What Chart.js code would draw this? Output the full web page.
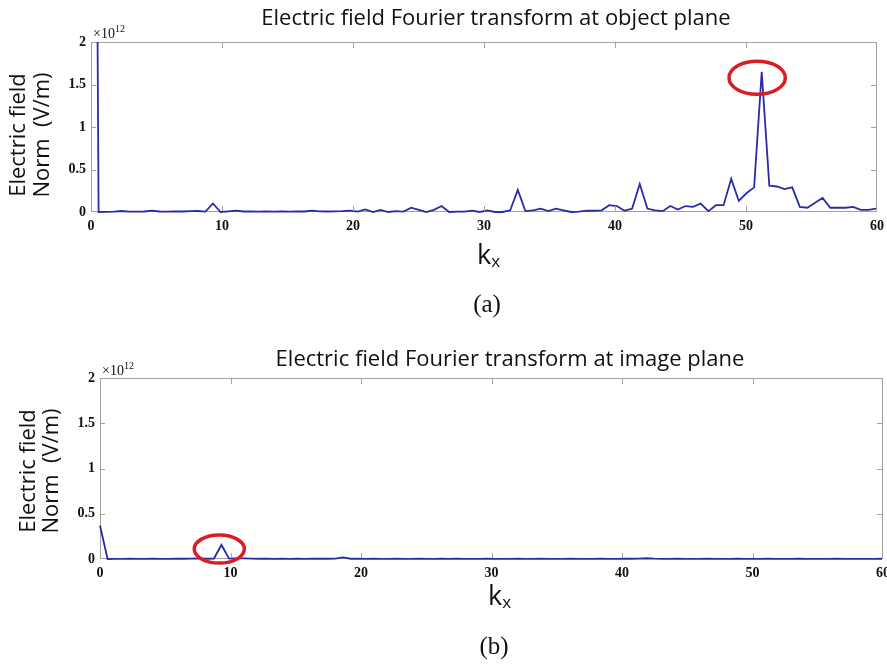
<!DOCTYPE html>
<html>
<head>
<meta charset="utf-8">
<title>Electric field Fourier transform</title>
<script src="https://cdn.jsdelivr.net/npm/chart.js@4.4.1/dist/chart.umd.min.js"></script>
<style>
  html, body { margin: 0; padding: 0; background: #fff; }
  #wrap { position: relative; width: 887px; height: 665px; overflow: hidden; }
  canvas { position: absolute; left: 0; }
  #objectChart { top: 0; }
  #imageChart { top: 330px; }
</style>
</head>
<body>
<div id="wrap">
  <canvas id="objectChart" width="887" height="330"></canvas>
  <canvas id="imageChart" width="887" height="335"></canvas>
</div>
<script>
// kx samples (spatial frequency)
const kx = [
  0.00, 0.58, 1.16, 1.75, 2.33, 2.91, 3.49, 4.07, 4.65, 5.24,
  5.82, 6.40, 6.98, 7.56, 8.15, 8.73, 9.31, 9.89, 10.47, 11.05,
  11.64, 12.22, 12.80, 13.38, 13.96, 14.55, 15.13, 15.71, 16.29, 16.87,
  17.45, 18.04, 18.62, 19.20, 19.78, 20.36, 20.94, 21.53, 22.11, 22.69,
  23.27, 23.85, 24.44, 25.02, 25.60, 26.18, 26.76, 27.34, 27.93, 28.51,
  29.09, 29.67, 30.25, 30.84, 31.42, 32.00, 32.58, 33.16, 33.74, 34.33,
  34.91, 35.49, 36.07, 36.65, 37.24, 37.82, 38.40, 38.98, 39.56, 40.14,
  40.73, 41.31, 41.89, 42.47, 43.05, 43.64, 44.22, 44.80, 45.38, 45.96,
  46.54, 47.13, 47.71, 48.29, 48.87, 49.45, 50.03, 50.62, 51.20, 51.78,
  52.36, 52.94, 53.53, 54.11, 54.69, 55.27, 55.85, 56.43, 57.02, 57.60,
  58.18, 58.76, 59.34, 59.93
];

// |E| at object plane, x10^12 V/m (first value is off the scale)
const objectNorm = [
  15, 0.0, 0.002, 0.005, 0.012, 0.005, 0.004, 0.006, 0.015, 0.006,
  0.005, 0.008, 0.006, 0.01, 0.012, 0.005, 0.1, 0.0, 0.008, 0.015,
  0.006, 0.008, 0.005, 0.007, 0.005, 0.006, 0.004, 0.008, 0.006, 0.015,
  0.008, 0.006, 0.007, 0.01, 0.015, 0.005, 0.03, 0.0, 0.025, 0.0,
  0.01, 0.005, 0.05, 0.025, 0.0, 0.025, 0.07, 0.0, 0.005, 0.005,
  0.015, 0.0, 0.02, 0.0, 0.0, 0.02, 0.26, 0.01, 0.02, 0.04,
  0.01, 0.04, 0.02, 0.0, 0.005, 0.015, 0.015, 0.02, 0.08, 0.07,
  0.015, 0.04, 0.33, 0.04, 0.02, 0.01, 0.07, 0.03, 0.07, 0.06,
  0.1, 0.01, 0.08, 0.08, 0.39, 0.13, 0.22, 0.29, 1.65, 0.31,
  0.30, 0.27, 0.29, 0.06, 0.05, 0.11, 0.165, 0.05, 0.05, 0.05,
  0.06, 0.025, 0.025, 0.04
];

// |E| at image plane, x10^12 V/m
const imageNorm = [
  0.37, 0.0, 0.002, 0.002, 0.003, 0.002, 0.002, 0.003, 0.002, 0.002,
  0.003, 0.003, 0.004, 0.006, 0.003, 0.005, 0.155, 0.004, 0.006, 0.008,
  0.004, 0.003, 0.003, 0.002, 0.003, 0.002, 0.003, 0.002, 0.003, 0.004,
  0.003, 0.005, 0.018, 0.003, 0.003, 0.002, 0.003, 0.002, 0.002, 0.003,
  0.002, 0.002, 0.003, 0.002, 0.002, 0.003, 0.002, 0.003, 0.002, 0.002,
  0.002, 0.003, 0.002, 0.002, 0.002, 0.003, 0.002, 0.002, 0.003, 0.002,
  0.002, 0.002, 0.003, 0.002, 0.002, 0.002, 0.003, 0.002, 0.002, 0.003,
  0.003, 0.004, 0.008, 0.004, 0.002, 0.002, 0.003, 0.002, 0.002, 0.002,
  0.003, 0.002, 0.002, 0.002, 0.003, 0.002, 0.002, 0.002, 0.003, 0.002,
  0.002, 0.002, 0.003, 0.002, 0.002, 0.002, 0.002, 0.003, 0.002, 0.002,
  0.002, 0.002, 0.002, 0.003
];

const xTicks = [0, 10, 20, 30, 40, 50, 60];
const yTicks = [0, 0.5, 1, 1.5, 2];
const yTitle = ['Electric field', 'Norm  (V/m)'];

const tickFont = { family: '"Liberation Serif", "Times New Roman", serif', size: 14, weight: 'bold' };
const sansFamily = '"Open Sans", "Liberation Sans", sans-serif';

// frame, inward ticks, red marker, titles and labels
const panelDecor = {
  id: 'panelDecor',
  beforeDatasetsDraw(chart) {
    const { ctx, chartArea: a } = chart;
    ctx.save();
    ctx.strokeStyle = '#a2a2a2';
    ctx.lineWidth = 1;
    ctx.strokeRect(a.left + 0.5, a.top + 0.5, a.right - a.left - 1, a.bottom - a.top - 1);
    ctx.restore();
  },
  afterDraw(chart, args, opts) {
    const { ctx, chartArea: a, scales: { x, y } } = chart;
    ctx.save();

    // inward ticks on all four sides
    ctx.strokeStyle = '#a2a2a2';
    ctx.lineWidth = 1;
    ctx.beginPath();
    xTicks.slice(1, -1).forEach(v => {
      const px = Math.round(x.getPixelForValue(v)) + 0.5;
      ctx.moveTo(px, a.bottom - 1); ctx.lineTo(px, a.bottom - 6);
      ctx.moveTo(px, a.top); ctx.lineTo(px, a.top + 6);
    });
    yTicks.slice(1, -1).forEach(v => {
      const py = Math.round(y.getPixelForValue(v)) + 0.5;
      ctx.moveTo(a.left, py); ctx.lineTo(a.left + 5, py);
      ctx.moveTo(a.right, py); ctx.lineTo(a.right - 6, py);
    });
    ctx.stroke();

    const m = opts.mark;
    const cx = x.getPixelForValue(m.kx);
    const cy = y.getPixelForValue(m.norm);
    ctx.beginPath();
    ctx.ellipse(cx, cy, x.getPixelForValue(m.kx + m.rx) - cx, cy - y.getPixelForValue(m.norm + m.ry), 0, 0, Math.PI * 2);
    ctx.strokeStyle = '#d81e25';
    ctx.lineWidth = 3.5;
    ctx.stroke();

    ctx.fillStyle = '#111';

    // exponent
    ctx.textAlign = 'left';
    ctx.textBaseline = 'alphabetic';
    ctx.font = '14px "Liberation Serif", serif';
    ctx.fillText('×10', a.left + 2, a.top - opts.expDrop);
    const w = ctx.measureText('×10').width;
    ctx.font = '10px "Liberation Serif", serif';
    ctx.fillText('12', a.left + 2 + w, a.top - opts.expDrop - 6);

    // y axis title, two rotated lines
    ctx.font = '22px ' + sansFamily;
    ctx.textAlign = 'center';
    ctx.textBaseline = 'middle';
    yTitle.forEach((line, i) => {
      ctx.save();
      ctx.translate(opts.yTitleX[i], opts.yTitleY);
      ctx.rotate(-Math.PI / 2);
      ctx.fillText(line, 0, 0);
      ctx.restore();
    });

    // title
    ctx.font = '22px ' + sansFamily;
    ctx.fillText(opts.title, opts.titleX, opts.titleY);

    // k_x
    ctx.textAlign = 'left';
    ctx.textBaseline = 'alphabetic';
    ctx.font = '27px ' + sansFamily;
    ctx.fillText('k', opts.kX, opts.kY);
    const kw = ctx.measureText('k').width;
    ctx.font = '17px ' + sansFamily;
    ctx.fillText('x', opts.kX + kw, opts.kY + 3);

    // panel label
    ctx.textAlign = 'center';
    ctx.textBaseline = 'middle';
    ctx.font = '25px "Liberation Serif", serif';
    ctx.fillText(opts.label, opts.labelX, opts.labelY);

    ctx.restore();
  }
};

function buildChart(id, values, panel) {
  return new Chart(document.getElementById(id), {
    type: 'line',
    data: {
      datasets: [{
        data: values.map((v, i) => ({ x: kx[i], y: v })),
        borderColor: '#2b2ba8',
        borderWidth: 1.8,
        pointRadius: 0,
        tension: 0,
        clip: { left: 2, right: 2, top: 0, bottom: 3 }
      }]
    },
    options: {
      responsive: false,
      animation: false,
      devicePixelRatio: 1,
      layout: { padding: panel.padding },
      plugins: {
        legend: { display: false },
        tooltip: { enabled: false },
        panelDecor: panel
      },
      scales: {
        x: {
          type: 'linear',
          min: 0,
          max: 60,
          afterBuildTicks: s => { s.ticks = xTicks.map(v => ({ value: v })); },
          afterFit: s => { s.height = 28; s.paddingLeft = 0; s.paddingRight = 0; },
          grid: { display: false, drawTicks: false },
          border: { display: false },
          ticks: { color: '#111', font: tickFont, padding: 6, maxRotation: 0, autoSkip: false, callback: v => String(v) }
        },
        y: {
          min: 0,
          max: 2,
          afterBuildTicks: s => { s.ticks = yTicks.map(v => ({ value: v })); },
          afterFit: s => { s.width = panel.axisWidth; },
          grid: { display: false, drawTicks: false },
          border: { display: false },
          ticks: { color: '#111', font: tickFont, padding: 5, autoSkip: false, callback: v => String(v) }
        }
      }
    },
    plugins: [panelDecor]
  });
}

buildChart('objectChart', objectNorm, {
  padding: { left: 0, right: 10, top: 42, bottom: 90 },
  axisWidth: 91,
  yTitleX: [19, 43], yTitleY: 135,
  expDrop: 4,
  title: 'Electric field Fourier transform at object plane',
  titleX: 496, titleY: 19,
  kX: 477, kY: 264,
  label: '(a)', labelX: 487, labelY: 305,
  mark: { kx: 50.85, norm: 1.58, rx: 2.15, ry: 0.195 }
});

buildChart('imageChart', imageNorm, {
  padding: { left: 0, right: 4, top: 48, bottom: 78 },
  axisWidth: 100,
  yTitleX: [29, 52], yTitleY: 141,
  expDrop: 3,
  title: 'Electric field Fourier transform at image plane',
  titleX: 510, titleY: 30,
  kX: 488, kY: 275,
  label: '(b)', labelX: 494, labelY: 317,
  mark: { kx: 9.14, norm: 0.11, rx: 1.92, ry: 0.155 }
});
</script>
</body>
</html>
